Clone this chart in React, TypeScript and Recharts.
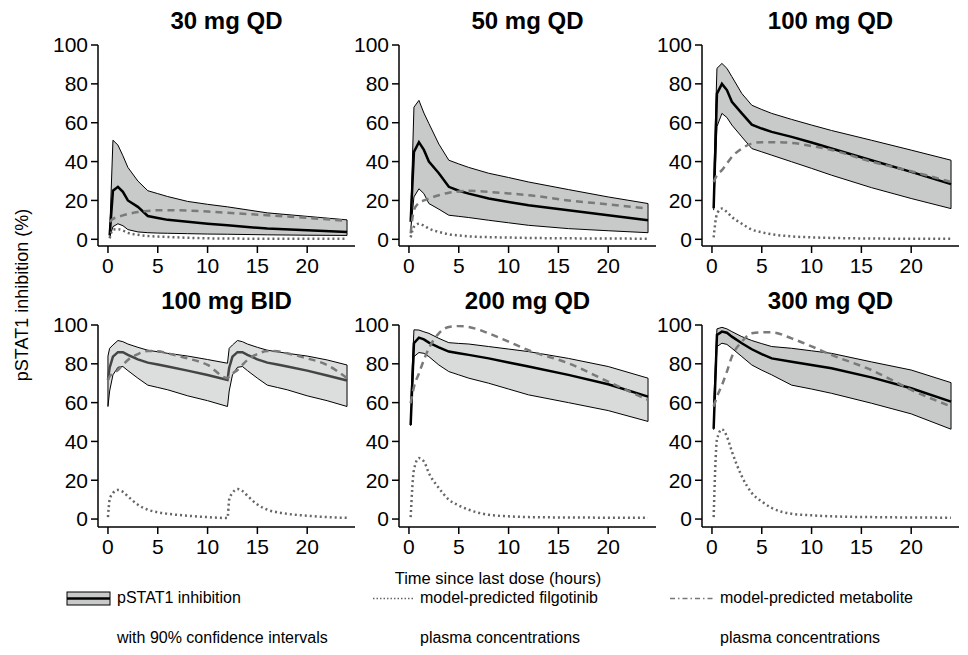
import React from 'react';
import { Area, ComposedChart, Line, ReferenceLine, XAxis, YAxis } from 'recharts';

const qdTimes = [0.17, 0.5, 1, 1.5, 2, 3, 4, 5, 6, 8, 10, 12, 16, 20, 24];
const bidTimes = [
  0, 0.17, 0.5, 1, 1.5, 2, 3, 4, 5, 6, 8, 10, 12, 12.17, 12.5, 13, 13.5, 14, 15, 16, 17, 18, 20, 22, 24,
];

const xTicks = [0, 5, 10, 15, 20];
const yTicks = [0, 20, 40, 60, 80, 100];

// 30 mg QD
const upper30 = [3, 51, 48.5, 43, 37, 30, 25, 23.5, 22, 19.5, 18, 16.7, 13.6, 11.8, 10];
const median30 = [2, 25, 27, 24.4, 20, 16.7, 12, 11, 10, 9, 8, 7.2, 5.5, 4.6, 3.8];
const lower30 = [1, 6.5, 8, 7, 5, 3.8, 3.4, 3.2, 3.1, 2.9, 2.7, 2.6, 2.3, 2.1, 2];
const filgo30 = [0.5, 5, 5.2, 4.5, 3.3, 2.3, 1.7, 1.4, 1.2, 0.8, 0.5, 0.4, 0.3, 0.3, 0.3];
const metab30 = [9, 10.5, 11.5, 12.3, 13, 14, 14.6, 15, 15, 14.8, 14.3, 13.6, 12.4, 11, 9.5];

// 50 mg QD
const upper50 = [10, 68, 71.5, 65, 59.6, 49, 40.7, 38.8, 37, 34, 31.8, 29.5, 25.6, 21.8, 18.4];
const median50 = [9, 45, 50, 46, 40, 34, 27, 25, 23.5, 21, 19.2, 17.5, 15, 12.4, 9.8];
const lower50 = [4.6, 21.8, 26, 23.5, 18.4, 15.5, 12.4, 11.8, 11.2, 9.8, 8.5, 7.2, 5.5, 4.4, 3.4];
const filgo50 = [1, 6.4, 8, 7, 5.5, 3.8, 2.6, 2, 1.5, 1.1, 0.9, 0.7, 0.5, 0.4, 0.3];
const metab50 = [3, 15, 18.7, 20, 21, 22.7, 24, 24.6, 25, 24.4, 23.6, 22.7, 20, 18, 15.8];

// 100 mg QD
const upper100 = [30, 88, 90.5, 88, 83.7, 75, 69, 66.8, 64.8, 61.7, 58.8, 56, 51, 45.9, 40.7];
const median100 = [16, 75, 80, 76.8, 70.8, 64.8, 59, 57, 55.3, 52.7, 49.8, 46.7, 40.7, 34.7, 28.4];
const lower100 = [15, 58, 64.8, 62.7, 58.8, 52.7, 46.7, 45, 43.3, 39.9, 36.5, 33, 26.6, 21, 15.8];
const filgo100 = [1, 13, 15.8, 14, 11.5, 8, 5, 3.6, 2.6, 1.5, 1, 0.7, 0.4, 0.3, 0.3];
const metab100 = [29.5, 33, 35.6, 39, 42.4, 46.7, 49.3, 50, 50, 49.6, 48, 46, 40, 35, 29.5];

// 100 mg BID
const upperBid = [84, 88, 89.7, 92, 91.4, 90.2, 88.5, 87, 86.2, 85.4, 84, 82.2, 80.3, 88, 89.7, 92, 91.4, 90.2, 88.5, 87, 86.2, 85.4, 84, 82, 79.4];
const medianBid = [71.7, 78, 83.7, 86, 86, 84.6, 82.3, 80.6, 79.6, 78.6, 76.5, 74.2, 71.7, 78, 83.7, 86, 86, 84.6, 82.3, 80.6, 79.6, 78.6, 76.5, 74, 71.4];
const lowerBid = [58, 66, 74.3, 78.2, 78.6, 76.5, 72.6, 69, 67.8, 66.6, 63.5, 61, 58, 66, 74.3, 78.2, 78.6, 76.5, 72.6, 69, 67.8, 66.6, 63.5, 61, 58];
const filgoBid = [1, 10, 13.4, 15, 14, 11.7, 7.4, 4.8, 3.5, 2.7, 1.7, 1, 0.5, 10, 13.4, 15.5, 14.5, 12, 7.5, 4.8, 3.5, 2.7, 1.7, 1, 0.6];
const metabBid = [71.7, 73.5, 75, 76.8, 79.5, 82, 85, 86.6, 86.5, 85.4, 82.8, 79.4, 72.6, 73.5, 75, 76.8, 79.5, 82, 85, 86.6, 86.5, 85.4, 82.8, 79.4, 72.6];

// 200 mg QD
const upper200 = [60, 97.5, 97.4, 96.5, 95.7, 93.1, 90.9, 90.5, 90.2, 88.9, 87.6, 86.3, 82.8, 78.6, 72.6];
const median200 = [48.5, 90.6, 93.5, 92.6, 90.9, 88.5, 86.3, 85.4, 84.6, 82.8, 80.7, 78.6, 74.3, 69.5, 63.1];
const lower200 = [48, 83.7, 85.8, 85.4, 83.7, 79.4, 76, 74.3, 72.6, 70, 67, 64, 60, 55.9, 50.3];
const filgo200 = [1, 25.4, 31.4, 29.7, 23.7, 16, 10, 7, 4.8, 2.2, 1.4, 1, 0.8, 0.7, 0.6];
const metab200 = [59.7, 68, 75, 82, 88, 95.7, 99, 99.5, 99, 95.7, 91.4, 87, 80.3, 70.8, 61.4];

// 300 mg QD
const upper300 = [60, 98, 98.8, 98, 96.6, 94, 92, 90.4, 88.9, 88, 86.7, 85.4, 81, 76.8, 70.3];
const median300 = [46.5, 94.9, 96.6, 96, 94, 90.6, 87.5, 85, 82.8, 81.1, 79.4, 77.7, 73, 67.4, 60.5];
const lower300 = [46, 88.9, 90.6, 90, 88, 83.7, 79.4, 76.7, 74.3, 69, 67, 64.8, 59.7, 54.2, 46.3];
const filgo300 = [1, 40.8, 46.3, 42.5, 34.8, 22, 13.4, 9, 5.7, 2.7, 1.9, 1.4, 1, 0.8, 0.7];
const metab300 = [58, 63, 69, 76, 83.7, 91.4, 95.7, 96.2, 96.2, 93.1, 89, 84.6, 76.8, 66.6, 58];

const FONT = '"Liberation Sans", Arial, Helvetica, sans-serif';
const PLOT_W = 257;
const colX = [98, 399, 702];
const rowTop = [45, 325];
const rowH = [201, 202];
const rowMin = [-3.45, -4.1];

const panels = [
  { title: '30 mg QD', t: qdTimes, up: upper30, med: median30, lo: lower30, fil: filgo30, met: metab30, fill: '#c8c9c9', medColor: '#000', col: 0, row: 0, closeStart: false },
  { title: '50 mg QD', t: qdTimes, up: upper50, med: median50, lo: lower50, fil: filgo50, met: metab50, fill: '#c8c9c9', medColor: '#000', col: 1, row: 0, closeStart: false },
  { title: '100 mg QD', t: qdTimes, up: upper100, med: median100, lo: lower100, fil: filgo100, met: metab100, fill: '#c8c9c9', medColor: '#000', col: 2, row: 0, closeStart: false },
  { title: '100 mg BID', t: bidTimes, up: upperBid, med: medianBid, lo: lowerBid, fil: filgoBid, met: metabBid, fill: '#dcdddd', medColor: '#444', col: 0, row: 1, closeStart: true },
  { title: '200 mg QD', t: qdTimes, up: upper200, med: median200, lo: lower200, fil: filgo200, met: metab200, fill: '#d9dada', medColor: '#000', col: 1, row: 1, closeStart: false },
  { title: '300 mg QD', t: qdTimes, up: upper300, med: median300, lo: lower300, fil: filgo300, met: metab300, fill: '#c8c9c9', medColor: '#000', col: 2, row: 1, closeStart: false },
];

const axisStyle = { stroke: '#000', strokeWidth: 1.5 };
const tickStyle = { fill: '#000', fontSize: 21, fontFamily: FONT };

function Panel({ p }: { p: (typeof panels)[number] }) {
  const data = p.t.map((t, i) => ({
    t,
    band: [p.lo[i], p.up[i]],
    up: p.up[i],
    lo: p.lo[i],
    med: p.med[i],
    fil: p.fil[i],
    met: p.met[i],
  }));
  const last = data.length - 1;
  const x = colX[p.col];
  const top = rowTop[p.row];
  const h = rowH[p.row];
  return (
    <>
      <div
        style={{
          position: 'absolute',
          left: x,
          width: PLOT_W,
          top: top - 38,
          textAlign: 'center',
          fontWeight: 'bold',
          fontSize: 24,
          lineHeight: '28px',
        }}
      >
        {p.title}
      </div>
      <div style={{ position: 'absolute', left: x - 50, top: top - 40 }}>
        <ComposedChart
          width={50 + PLOT_W + 10}
          height={40 + h + 40}
          data={data}
          margin={{ top: 40, right: 10, bottom: 0, left: 0 }}
        >
          <XAxis
            type="number"
            dataKey="t"
            domain={[-1, 24.8]}
            ticks={xTicks}
            allowDataOverflow
            height={40}
            tickSize={7}
            tickMargin={5}
            axisLine={axisStyle}
            tickLine={axisStyle}
            tick={tickStyle}
          />
          <YAxis
            type="number"
            domain={[rowMin[p.row], 100]}
            ticks={yTicks}
            allowDataOverflow
            width={50}
            tickSize={7}
            tickMargin={3}
            axisLine={axisStyle}
            tickLine={axisStyle}
            tick={tickStyle}
          />
          <Area
            dataKey="band"
            type="linear"
            fill={p.fill}
            fillOpacity={1}
            stroke="none"
            isAnimationActive={false}
          />
          <Line dataKey="up" type="linear" stroke="#000" strokeWidth={1} dot={false} isAnimationActive={false} />
          <Line dataKey="lo" type="linear" stroke="#000" strokeWidth={1} dot={false} isAnimationActive={false} />
          <ReferenceLine
            segment={[
              { x: data[last].t, y: data[last].lo },
              { x: data[last].t, y: data[last].up },
            ]}
            stroke="#000"
            strokeWidth={1}
          />
          {p.closeStart && (
            <ReferenceLine
              segment={[
                { x: data[0].t, y: data[0].lo },
                { x: data[0].t, y: data[0].up },
              ]}
              stroke="#000"
              strokeWidth={1}
            />
          )}
          <Line dataKey="med" type="linear" stroke={p.medColor} strokeWidth={2.5} dot={false} isAnimationActive={false} />
          <Line
            dataKey="met"
            type="monotone"
            stroke="#7a7a7a"
            strokeWidth={2.5}
            strokeDasharray="7 5"
            dot={false}
            isAnimationActive={false}
          />
          <Line
            dataKey="fil"
            type="monotone"
            stroke="#666"
            strokeWidth={2.5}
            strokeDasharray="2 3"
            dot={false}
            isAnimationActive={false}
          />
        </ComposedChart>
      </div>
    </>
  );
}

const legendText = { position: 'absolute' as const, fontSize: 16, lineHeight: '18px', whiteSpace: 'nowrap' as const };

export default function App() {
  return (
    <div
      style={{
        position: 'absolute',
        left: 0,
        top: 0,
        width: 968,
        height: 655,
        background: '#fff',
        fontFamily: FONT,
        color: '#000',
      }}
    >
      {panels.map((p) => (
        <Panel key={p.title} p={p} />
      ))}
      <div
        style={{
          position: 'absolute',
          left: 22 - 150,
          top: 295 - 12,
          width: 300,
          height: 24,
          lineHeight: '24px',
          fontSize: 18,
          textAlign: 'center',
          transform: 'rotate(-90deg)',
        }}
      >
        pSTAT1 inhibition (%)
      </div>
      <div
        style={{
          position: 'absolute',
          left: 298,
          width: 400,
          top: 567,
          lineHeight: '22px',
          fontSize: 16.5,
          textAlign: 'center',
        }}
      >
        Time since last dose (hours)
      </div>
      <svg style={{ position: 'absolute', left: 0, top: 585 }} width={968} height={30}>
        <rect x={67} y={7} width={43} height={13} fill="#c8c9c9" stroke="#000" strokeWidth={1} />
        <line x1={67} x2={110} y1={13.5} y2={13.5} stroke="#000" strokeWidth={2.5} />
        <line x1={373} x2={413} y1={13.5} y2={13.5} stroke="#666" strokeWidth={1.5} strokeDasharray="1.5 2" />
        <line x1={670} x2={713} y1={13.5} y2={13.5} stroke="#777" strokeWidth={1.5} strokeDasharray="5 3 1.5 3" />
      </svg>
      <div style={{ ...legendText, left: 117, top: 589 }}>pSTAT1 inhibition</div>
      <div style={{ ...legendText, left: 117, top: 629 }}>with 90% confidence intervals</div>
      <div style={{ ...legendText, left: 420, top: 589 }}>model-predicted filgotinib</div>
      <div style={{ ...legendText, left: 420, top: 629 }}>plasma concentrations</div>
      <div style={{ ...legendText, left: 720, top: 589 }}>model-predicted metabolite</div>
      <div style={{ ...legendText, left: 720, top: 629 }}>plasma concentrations</div>
    </div>
  );
}
